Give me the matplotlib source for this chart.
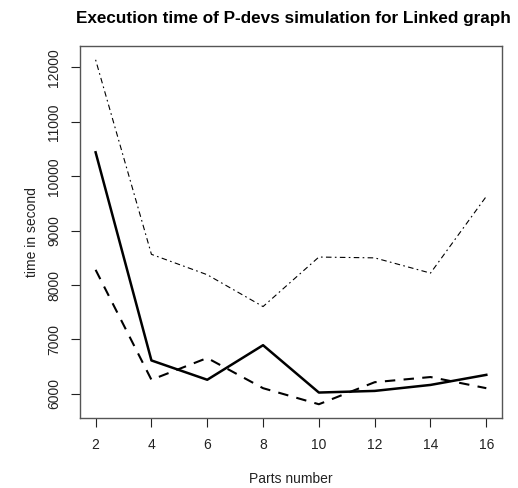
import matplotlib
matplotlib.use("Agg")
import matplotlib.pyplot as plt

# Data
parts = [2, 4, 6, 8, 10, 12, 14, 16]
time_solid = [10440, 6615, 6260, 6895, 6025, 6055, 6165, 6350]
time_dashed = [8280, 6260, 6660, 6105, 5810, 6215, 6310, 6105]
time_dotdash = [12140, 8565, 8190, 7605, 8515, 8500, 8220, 9630]
yticks = [6000, 7000, 8000, 9000, 10000, 11000, 12000]

plt.rcParams['font.family'] = ['Liberation Sans', 'DejaVu Sans']

fig = plt.figure(figsize=(5.18, 4.88), dpi=100)
ax = fig.add_axes([0.1544, 0.1434, 0.8146, 0.7623])

ax.plot(parts, time_solid, color="black", lw=1.8, linestyle="-")
ax.plot(parts, time_dashed, color="black", lw=1.5, linestyle=(0, (5, 4)))
ax.plot(parts, time_dotdash, color="black", lw=0.8, linestyle=(0, (1.5, 3, 5, 3)))

# R style 4% padding
xr = max(parts) - min(parts)
ax.set_xlim(min(parts) - 0.04 * xr, max(parts) + 0.04 * xr)
ymin = min(time_solid + time_dashed + time_dotdash)
ymax = max(time_solid + time_dashed + time_dotdash)
yr = ymax - ymin
ax.set_ylim(ymin - 0.04 * yr, ymax + 0.04 * yr)

ax.set_xticks(parts)
ax.set_yticks(yticks)
ax.set_yticklabels([str(v) for v in yticks], rotation=90, va="center")
ax.tick_params(axis="both", direction="out", length=6.5, width=0.8,
               labelsize=10, colors="#222222")
ax.tick_params(axis="x", pad=8)
ax.tick_params(axis="y", pad=7)
for s in ax.spines.values():
    s.set_color("#555555")
    s.set_linewidth(1.0)

ax.set_xlabel("Parts number", fontsize=10, labelpad=14, color="#222222")
ax.set_ylabel("time in second", fontsize=10, labelpad=6, color="#222222")
fig.text(0.5 + 0.066, 0.962, "Execution time of P-devs simulation for Linked graph",
         ha="center", va="center", fontsize=12.3, fontweight="bold")

fig.savefig("out.png", dpi=100)
